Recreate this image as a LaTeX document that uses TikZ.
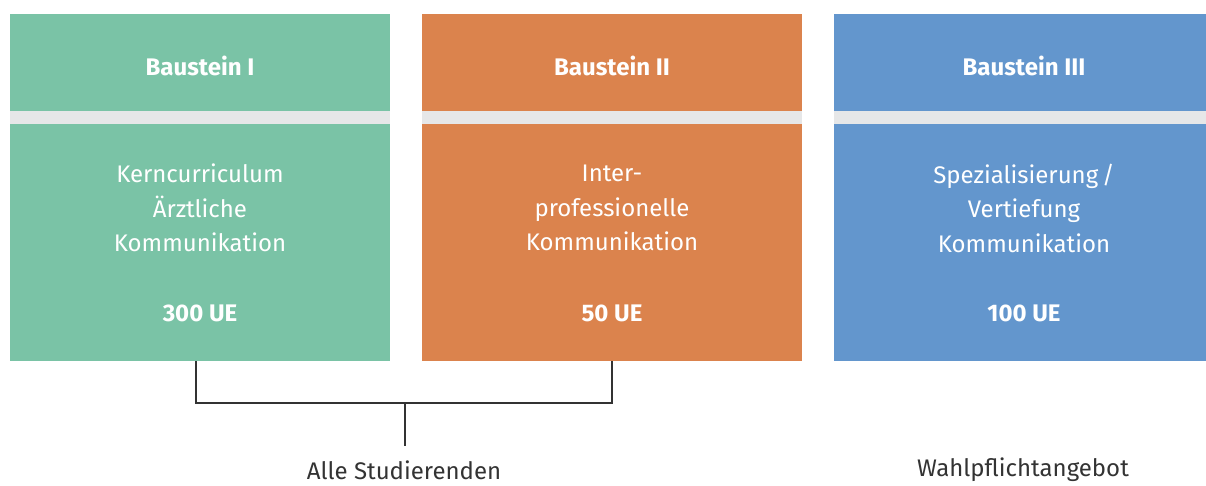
\documentclass[tikz,border=0pt]{standalone}
\usepackage{fontspec}
\setmainfont{Fira Sans}
\definecolor{cgreen}{HTML}{7AC3A6}
\definecolor{corange}{HTML}{DB834D}
\definecolor{cblue}{HTML}{6396CD}
\definecolor{cband}{HTML}{E6E7E8}
\definecolor{ctext}{HTML}{333333}
\begin{document}
\begin{tikzpicture}[x=1pt,y=-1pt,
  boxbg/.style={inner sep=0pt,outer sep=0pt,minimum width=380pt,minimum height=347pt,anchor=north west},
  band/.style={fill=cband},
  title/.style={text=white,font=\fontsize{24}{28}\selectfont\bfseries},
  body/.style={text=white,font=\fontsize{24}{34.5}\selectfont,align=center},
  ue/.style={text=white,font=\fontsize{24}{28}\selectfont\bfseries},
  bottomlabel/.style={text=ctext,font=\fontsize{24}{28}\selectfont},
  bracket/.style={draw=ctext,line width=1.2pt}]
\useasboundingbox (0,0) rectangle (1206,485);
% boxes
\node[boxbg,fill=cgreen] (b1) at (10,14) {};
\node[boxbg,fill=corange] (b2) at (422,14) {};
\node[boxbg,fill=cblue] (b3) at (834,14) {};
\fill[band] (10,111) rectangle (390,124);
\fill[band] (422,111) rectangle (802,124);
\fill[band] (834,111) rectangle (1214,124);
% titles
\node[title] (t1) at (200,66) {Baustein I};
\node[title] (t2) at (612,66) {Baustein II};
\node[title] (t3) at (1024,66) {Baustein III};
% bodies
\node[body] (m1) at (200,208) {Kerncurriculum\\Ärztliche\\Kommunikation};
\node[body] (m2) at (612,208) {Inter-\\professionelle\\Kommunikation};
\node[body] (m3) at (1024,208) {Spezialisierung\,/\\Vertiefung\\Kommunikation};
% UE
\node[ue] (u1) at (200,313) {300 UE};
\node[ue] (u2) at (612,313) {50 UE};
\node[ue] (u3) at (1024,313) {100 UE};
% bottom labels
\node[bottomlabel] (l1) at (404,470) {Alle Studierenden};
\node[bottomlabel] (l2) at (1023,470) {Wahlpflichtangebot};
% bracket
\coordinate (p1) at (196,361);
\coordinate (p2) at (612,361);
\coordinate (s) at (405,446);
\draw[bracket] (p1) |- (405,403) -| (p2);
\draw[bracket] (405,403) -- (s);
\end{tikzpicture}
\end{document}
